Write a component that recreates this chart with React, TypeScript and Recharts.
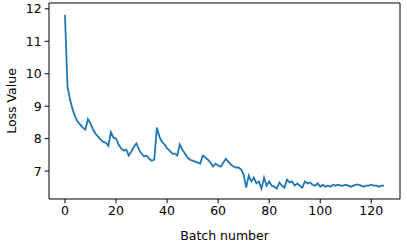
import { LineChart, Line, XAxis, YAxis, ReferenceLine } from "recharts";

// loss per batch
const lossValues = [
  11.82, 9.6, 9.2, 8.9, 8.68, 8.52, 8.43, 8.34, 8.28, 8.6,
  8.47, 8.28, 8.15, 8.06, 7.97, 7.9, 7.88, 7.78, 8.2, 8.03,
  8.0, 7.82, 7.7, 7.63, 7.66, 7.48, 7.6, 7.75, 7.85, 7.66,
  7.54, 7.45, 7.48, 7.38, 7.32, 7.35, 8.34, 8.06, 7.9, 7.82,
  7.7, 7.63, 7.54, 7.54, 7.48, 7.82, 7.66, 7.54, 7.42, 7.35,
  7.32, 7.29, 7.26, 7.23, 7.48, 7.42, 7.35, 7.26, 7.14, 7.23,
  7.17, 7.14, 7.26, 7.38, 7.29, 7.2, 7.14, 7.11, 7.11, 7.05,
  6.89, 6.49, 6.86, 6.68, 6.8, 6.62, 6.68, 6.46, 6.8, 6.55,
  6.68, 6.55, 6.52, 6.46, 6.65, 6.55, 6.49, 6.74, 6.65, 6.68,
  6.55, 6.62, 6.55, 6.49, 6.68, 6.62, 6.65, 6.58, 6.55, 6.62,
  6.52, 6.58, 6.52, 6.55, 6.52, 6.58, 6.55, 6.58, 6.55, 6.55,
  6.58, 6.55, 6.52, 6.55, 6.58, 6.58, 6.55, 6.52, 6.55, 6.55,
  6.58, 6.55, 6.55, 6.52, 6.55, 6.55,
];
const xTicks = [0, 20, 40, 60, 80, 100, 120];
const yTicks = [7, 8, 9, 10, 11, 12];
const xDomain = [-6.25, 131.25];
const yDomain = [6.14, 12.18];

const data = lossValues.map((loss, i) => ({ batch: i, loss }));

const font = "DejaVu Sans, sans-serif";
const tickStyle = { fill: "#000", fontSize: 12.5, fontFamily: font };

const App = () => {
  return (
    <div style={{ position: "absolute", left: 0, top: 0, width: 407, height: 245 }}>
      <LineChart
        width={407}
        height={245}
        data={data}
        margin={{ top: 3, right: 7, left: 0, bottom: 0 }}
      >
        <XAxis
          dataKey="batch"
          type="number"
          domain={xDomain}
          ticks={xTicks}
          height={46}
          stroke="#000"
          tickSize={4.4}
          tickMargin={3}
          tick={tickStyle}
          allowDataOverflow
          label={{
            content: () => (
              <text
                x={224.5}
                y={240}
                textAnchor="middle"
                fontSize={12.5}
                fontFamily={font}
                fill="#000"
              >
                Batch number
              </text>
            ),
          }}
        />
        <YAxis
          type="number"
          domain={yDomain}
          ticks={yTicks}
          width={49}
          stroke="#000"
          tickSize={4.4}
          tickMargin={3}
          tick={tickStyle}
          allowDataOverflow
          label={{
            content: () => (
              <text
                x={0}
                y={0}
                transform="translate(16 101) rotate(-90)"
                textAnchor="middle"
                fontSize={12.5}
                fontFamily={font}
                fill="#000"
              >
                Loss Value
              </text>
            ),
          }}
        />
        {/* top and right spines */}
        <ReferenceLine y={yDomain[1]} stroke="#000" strokeWidth={1} />
        <ReferenceLine x={xDomain[1]} stroke="#000" strokeWidth={1} />
        <Line
          dataKey="loss"
          type="linear"
          stroke="#1f77b4"
          strokeWidth={1.8}
          dot={false}
          isAnimationActive={false}
        />
      </LineChart>
    </div>
  );
};

export default App;
